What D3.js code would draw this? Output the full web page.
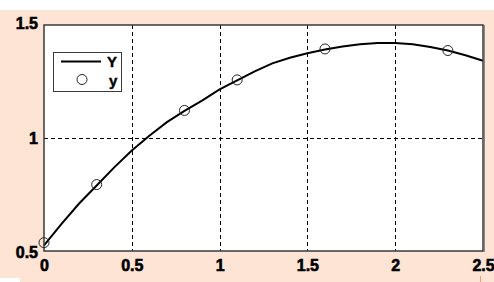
<!DOCTYPE html>
<html>
<head>
<meta charset="utf-8">
<script src="https://cdn.jsdelivr.net/npm/d3@7"></script>
<style>
  body { margin: 0; background: #fff; }
  svg { display: block; }
  .tick-label { font-family: "Liberation Sans", Arial, sans-serif; font-weight: bold; font-size: 16px; fill: #000; stroke: #000; stroke-width: 0.6px; }
  .leg-text { font-family: "Liberation Sans", Arial, sans-serif; font-weight: bold; font-size: 15px; fill: #000; stroke: #000; stroke-width: 0.4px; }
</style>
</head>
<body>
<div id="chart"></div>
<script>
// curve Y
const curveX = [0, 0.1, 0.2, 0.3, 0.4, 0.5, 0.6, 0.7, 0.8, 0.9, 1.0, 1.1, 1.2,
                1.3, 1.4, 1.5, 1.6, 1.7, 1.8, 1.9, 2.0, 2.1, 2.2, 2.3, 2.4, 2.5];
const curveY = [0.525, 0.62, 0.71, 0.79, 0.87, 0.945, 1.01, 1.07, 1.12, 1.165, 1.215, 1.255, 1.295,
                1.33, 1.355, 1.375, 1.392, 1.405, 1.415, 1.42, 1.42, 1.415, 1.403, 1.387, 1.366, 1.342];

// sample points y (circles)
const pointX = [0, 0.3, 0.8, 1.1, 1.6, 2.3];
const pointY = [0.537, 0.794, 1.122, 1.257, 1.394, 1.387];

const xTicks = [0, 0.5, 1, 1.5, 2, 2.5];
const xTickLabels = ["0", "0.5", "1", "1.5", "2", "2.5"];
const yTicks = [0.5, 1, 1.5];
const yTickLabels = ["0.5", "1", "1.5"];
const legendLabels = ["Y", "y"];

const W = 494, H = 282;
const margin = { top: 25, right: 11, bottom: 31, left: 44 };
const width = W - margin.left - margin.right,
      height = H - margin.top - margin.bottom;

const svg = d3.select("#chart")
    .append("svg")
    .attr("width", W)
    .attr("height", H);

// peach backdrop
svg.append("rect")
    .attr("x", 0).attr("y", 10)
    .attr("width", W).attr("height", H - 10)
    .attr("fill", "#fde4d4");
svg.append("rect")
    .attr("x", 0).attr("y", 278)
    .attr("width", 20).attr("height", 4)
    .attr("fill", "#fff");
svg.append("line")
    .attr("x1", 480.5).attr("x2", 480.5)
    .attr("y1", 276).attr("y2", 282)
    .attr("stroke", "#f0a070");

const g = svg.append("g")
    .attr("transform", `translate(${margin.left}, ${margin.top})`);

const x = d3.scaleLinear().domain([0, 2.5]).range([0, width]);
const y = d3.scaleLinear().domain([0.5, 1.5]).range([height, 0]);

g.append("rect")
    .attr("width", width).attr("height", height)
    .attr("fill", "#fff");

// dashed grid
g.selectAll("vgrid")
    .data(xTicks.slice(1, -1))
    .enter()
    .append("line")
    .attr("x1", d => Math.round(x(d)) + 0.5)
    .attr("x2", d => Math.round(x(d)) + 0.5)
    .attr("y1", 0).attr("y2", height)
    .attr("stroke", "#000")
    .attr("stroke-dasharray", "4,3");

g.selectAll("hgrid")
    .data(yTicks.slice(1, -1))
    .enter()
    .append("line")
    .attr("y1", d => Math.round(y(d)) + 0.5)
    .attr("y2", d => Math.round(y(d)) + 0.5)
    .attr("x1", 0).attr("x2", width)
    .attr("stroke", "#000")
    .attr("stroke-dasharray", "4,3");

// axes (labels only, frame drawn separately)
const xAxis = g.append("g")
    .attr("transform", `translate(0, ${height})`)
    .call(d3.axisBottom(x).tickValues(xTicks).tickSize(0).tickPadding(9)
        .tickFormat((d, i) => xTickLabels[i]));
xAxis.select(".domain").remove();
xAxis.selectAll("text").attr("class", "tick-label");

const yAxis = g.append("g")
    .call(d3.axisLeft(y).tickValues(yTicks).tickSize(0).tickPadding(6)
        .tickFormat((d, i) => yTickLabels[i]));
yAxis.select(".domain").remove();
yAxis.selectAll("text").attr("class", "tick-label");
yAxis.selectAll(".tick").filter(d => d === 1.5).select("text").attr("dy", "0.2em");
yAxis.selectAll(".tick").filter(d => d === 0.5).select("text").attr("dy", "0.4em");

// curve
const curve = curveX.map((d, i) => ({ x: d, y: curveY[i] }));
g.append("path")
    .datum(curve)
    .attr("fill", "none")
    .attr("stroke", "#000")
    .attr("stroke-width", 2)
    .attr("d", d3.line().x(d => x(d.x)).y(d => y(d.y)));

// circles
const pts = pointX.map((d, i) => ({ x: d, y: pointY[i] }));
g.selectAll("mycircle")
    .data(pts)
    .enter()
    .append("circle")
    .attr("cx", d => x(d.x))
    .attr("cy", d => y(d.y))
    .attr("r", 5)
    .attr("fill", "none")
    .attr("stroke", "#222")
    .attr("stroke-width", 1);

// frame
g.append("rect")
    .attr("width", width).attr("height", height)
    .attr("fill", "none")
    .attr("stroke", "#3a3a3a")
    .attr("stroke-width", 1.5);
g.append("line")
    .attr("x1", width + 1.5).attr("x2", width + 1.5)
    .attr("y1", 0).attr("y2", height + 1)
    .attr("stroke", "#888")
    .attr("stroke-width", 1);

// legend
const leg = g.append("g").attr("transform", "translate(9, 27)");
leg.append("rect")
    .attr("x", 0.5).attr("y", 0.5)
    .attr("width", 68).attr("height", 39)
    .attr("fill", "#fff")
    .attr("stroke", "#3a3a3a")
    .attr("stroke-width", 1);
leg.append("line")
    .attr("x1", 8).attr("x2", 48)
    .attr("y1", 9.5).attr("y2", 9.5)
    .attr("stroke", "#000").attr("stroke-width", 2);
leg.append("text").attr("class", "leg-text")
    .attr("x", 54).attr("y", 15)
    .text(legendLabels[0]);
leg.append("circle")
    .attr("cx", 29).attr("cy", 27.5).attr("r", 5)
    .attr("fill", "none").attr("stroke", "#222");
leg.append("text").attr("class", "leg-text")
    .attr("x", 56).attr("y", 34)
    .text(legendLabels[1]);
</script>
</body>
</html>
